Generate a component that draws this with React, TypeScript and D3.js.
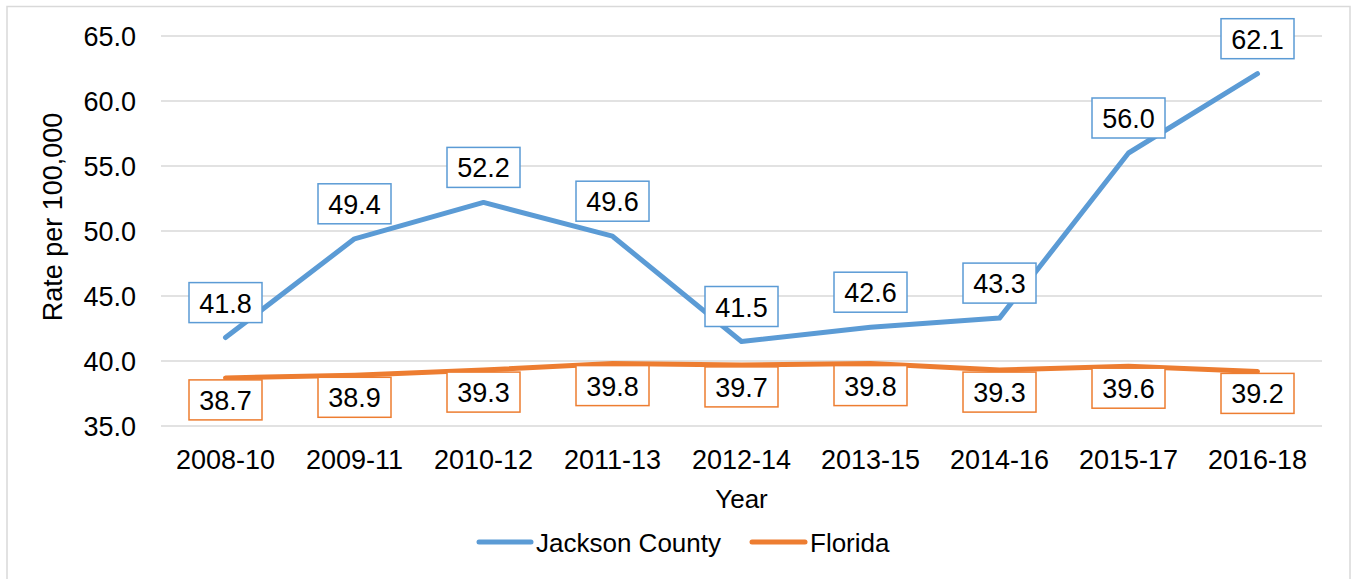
import React from 'react';
import * as d3 from 'd3';

const years = ['2008-10', '2009-11', '2010-12', '2011-13', '2012-14', '2013-15', '2014-16', '2015-17', '2016-18'];
const jackson = [41.8, 49.4, 52.2, 49.6, 41.5, 42.6, 43.3, 56.0, 62.1];
const florida = [38.7, 38.9, 39.3, 39.8, 39.7, 39.8, 39.3, 39.6, 39.2];
const yTicks = [35, 40, 45, 50, 55, 60, 65];

const W = 1354;
const H = 579;
const FONT = '"Liberation Sans", Arial, sans-serif';
const BLUE = '#5b9bd5';
const ORANGE = '#ed7d31';

const App = () => {
  const left = 161;
  const right = 1322;
  const top = 36;
  const bottom = 426;

  const x = d3.scalePoint<string>().domain(years).range([left, right]).padding(0.5);
  const y = d3.scaleLinear().domain([35, 65]).range([bottom, top]);

  const line = d3.line<number>()
    .x((_, i) => x(years[i]) as number)
    .y(d => y(d));

  const boxW = 73;
  const boxH = 40;

  const labels = (vals: number[], color: string, above: boolean) =>
    vals.map((v, i) => {
      const cx = x(years[i]) as number;
      const cy = above ? y(v) - 15 - boxH / 2 : y(v) + 22;
      return (
        <g key={i}>
          <rect x={cx - boxW / 2} y={cy - boxH / 2} width={boxW} height={boxH}
            fill="#fff" stroke={color} strokeWidth={1.5} />
          <text x={cx} y={cy + 10} textAnchor="middle" fontSize={27} fill="#000">
            {v.toFixed(1)}
          </text>
        </g>
      );
    });

  return (
    <div style={{ position: 'absolute', left: 0, top: 0, width: W, height: H, background: '#fff' }}>
      <svg width={W} height={H} style={{ display: 'block', fontFamily: FONT }}>
        <rect x={7} y={6.5} width={1343} height={600} fill="#fff" stroke="#d9d9d9" strokeWidth={1.5} />

        {yTicks.map(t => (
          <g key={t}>
            <line x1={left} x2={right} y1={y(t)} y2={y(t)} stroke="#d9d9d9" strokeWidth={1.5} />
            <text x={136} y={y(t) + 10} textAnchor="end" fontSize={27} fill="#000">
              {t.toFixed(1)}
            </text>
          </g>
        ))}

        {years.map(yr => (
          <text key={yr} x={x(yr) as number} y={469} textAnchor="middle" fontSize={27} fill="#000">
            {yr}
          </text>
        ))}

        <text x={(left + right) / 2} y={508} textAnchor="middle" fontSize={26} fill="#000">Year</text>
        <text transform={`translate(62,${(top + bottom) / 2 - 14}) rotate(-90)`} textAnchor="middle"
          fontSize={27} fill="#000">Rate per 100,000</text>

        <path d={line(jackson) || ''} fill="none" stroke={BLUE} strokeWidth={5}
          strokeLinecap="round" strokeLinejoin="round" />
        <path d={line(florida) || ''} fill="none" stroke={ORANGE} strokeWidth={5}
          strokeLinecap="round" strokeLinejoin="round" />

        {labels(jackson, BLUE, true)}
        {labels(florida, ORANGE, false)}

        <line x1={479} x2={531} y1={542} y2={542} stroke={BLUE} strokeWidth={5} strokeLinecap="round" />
        <text x={536} y={552} fontSize={26} fill="#000">Jackson County</text>
        <line x1={752} x2={805} y1={542} y2={542} stroke={ORANGE} strokeWidth={5} strokeLinecap="round" />
        <text x={810} y={552} fontSize={26} fill="#000">Florida</text>
      </svg>
    </div>
  );
};

export default App;
